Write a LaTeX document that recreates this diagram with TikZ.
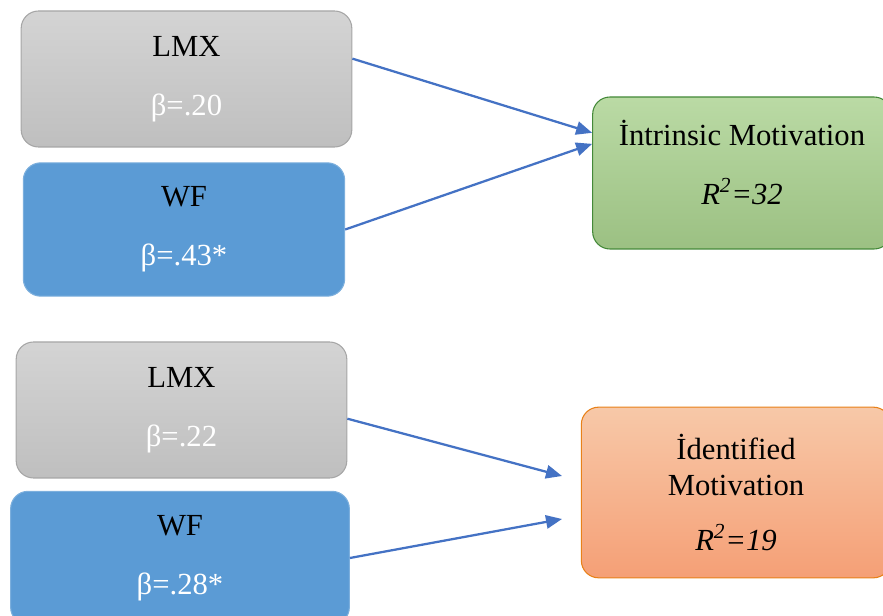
\documentclass[tikz,border=0pt]{standalone}
\usepackage{fontspec}
\setmainfont{Liberation Serif}
\usetikzlibrary{arrows.meta}

\definecolor{lmxgrey}{HTML}{C9C9C9}
\definecolor{wfblue}{HTML}{5B9BD5}
\definecolor{intrgreen}{HTML}{A9D18E}
\definecolor{idenorange}{HTML}{F4B183}
\definecolor{pathblue}{HTML}{4472C4}

\begin{document}
\begin{tikzpicture}[x=0.75pt, y=-0.75pt, font=\fontsize{23}{27}\selectfont,
    predbox/.style={rounded corners=13pt, align=center, inner sep=0pt},
    lmxbox/.style={predbox, top color=lmxgrey!80!white, bottom color=lmxgrey!95!black, draw=black!35, line width=0.8pt},
    wfbox/.style={predbox, fill=wfblue, draw=wfblue!80!white, line width=0.8pt},
    intrbox/.style={predbox, top color=intrgreen!80!white, bottom color=intrgreen!92!black, draw=green!35!black!60!intrgreen, line width=0.8pt},
    idenbox/.style={predbox, top color=idenorange!70!white, bottom color=idenorange!90!red, draw=orange!90!black!90!white, line width=0.8pt},
    path/.style={draw=pathblue, line width=1.7pt, -{Triangle[length=12pt,width=10pt]}}]
    \useasboundingbox (0,0) rectangle (883,616);

    % upper model
    \node[lmxbox, minimum width=248pt, minimum height=102pt] (lmxA) at (186.5,79) {LMX\\[17pt]\textcolor{white}{β=.20}};
    \node[wfbox, minimum width=241pt, minimum height=100pt] (wfA) at (184,229.5) {WF\\[17pt]\textcolor{white}{β=.43*}};
    \node[intrbox, minimum width=224pt, minimum height=114pt] (intr) at (742,173) {İntrinsic Motivation\\[17pt]\textit{R\textsuperscript{2}=32}\\[-11pt]\mbox{}};

    \draw[path] (lmxA.7) -- (intr.165);
    \draw[path] (wfA.east) -- (intr.169);

    % lower model
    \node[lmxbox, minimum width=248pt, minimum height=102pt] (lmxB) at (181.5,410) {LMX\\[17pt]\textcolor{white}{β=.22}};
    \node[wfbox, minimum width=254pt, minimum height=100pt] (wfB) at (180,558) {WF\\[17pt]\textcolor{white}{β=.28*}};
    \node[idenbox, minimum width=232pt, minimum height=128pt] (iden) at (736,492.5) {İdentified\\Motivation\\[14pt]\textit{R\textsuperscript{2}=19}};

    \coordinate (idenA) at (562,476);
    \coordinate (idenB) at (562,519);
    \draw[path] (lmxB.-3) -- (idenA);
    \draw[path] (wfB.east) -- (idenB);
\end{tikzpicture}
\end{document}
